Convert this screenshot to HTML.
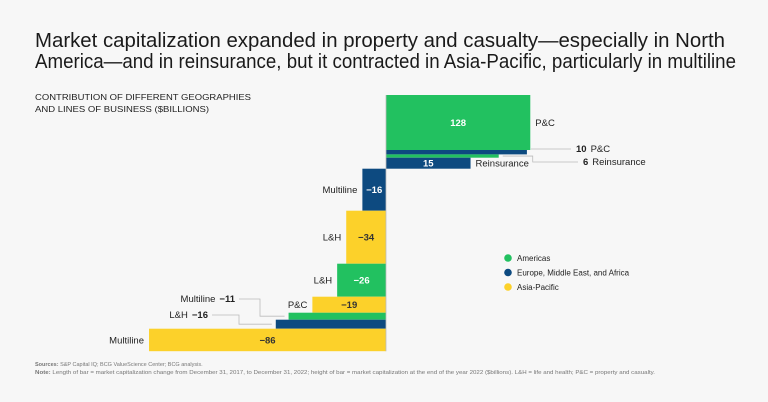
<!DOCTYPE html>
<html><head><meta charset="utf-8"><style>
html,body{margin:0;padding:0;background:#f7f7f7;}
svg{display:block;font-family:"Liberation Sans",sans-serif;}
</style></head><body>
<svg id="c" width="768" height="402" viewBox="0 0 768 402">
<rect width="768" height="402" fill="#f7f7f7"/>
<text x="35" y="47" font-size="20" fill="#1a1a1a" textLength="690" lengthAdjust="spacingAndGlyphs">Market capitalization expanded in property and casualty—especially in North</text>
<text x="35" y="68" font-size="20" fill="#1a1a1a" textLength="701" lengthAdjust="spacingAndGlyphs">America—and in reinsurance, but it contracted in Asia-Pacific, particularly in multiline</text>
<text x="35" y="100" font-size="8.5" fill="#222" textLength="216" lengthAdjust="spacingAndGlyphs">CONTRIBUTION OF DIFFERENT GEOGRAPHIES</text>
<text x="35" y="112" font-size="8.5" fill="#222" textLength="174" lengthAdjust="spacingAndGlyphs">AND LINES OF BUSINESS ($BILLIONS)</text>
<g id="bars"></g>
<g id="legend"></g>
<text x="35" y="366" font-size="5.5" fill="#777"><tspan font-weight="bold">Sources:</tspan> S&amp;P Capital IQ; BCG ValueScience Center; BCG analysis.</text>
<text x="35" y="374" font-size="5.5" fill="#777" textLength="620" lengthAdjust="spacingAndGlyphs"><tspan font-weight="bold">Note:</tspan> Length of bar = market capitalization change from December 31, 2017, to December 31, 2022; height of bar = market capitalization at the end of the year 2022 ($billions). L&amp;H = life and health; P&amp;C = property and casualty.</text>
</svg>
<script>
const categories = ["P&C","P&C","Reinsurance","Reinsurance","Multiline","L&H","L&H","P&C","Multiline","L&H","Multiline"];
const regions = ["am","em","am","em","em","ap","am","ap","am","em","ap"];
const changes = [128,10,6,15,-16,-34,-26,-19,-11,-16,-86];
const marketCaps = [550,44,33,110,420,530,330,160,70,90,225];
const regionNames = ["Americas","Europe, Middle East, and Africa","Asia-Pacific"];
const regionKeys = ["am","em","ap"];

const colors = {am:"#22c160", em:"#0d4a80", ap:"#fcd12a"};
const NS = "http://www.w3.org/2000/svg";
const x0 = 386, yTop = 95;
const capScale = v => v / 10;
const areaK = 62;
const g = document.getElementById("bars");
function mk(tag, attrs, parent){const e=document.createElementNS(NS,tag);for(const k in attrs)e.setAttribute(k,attrs[k]);parent.appendChild(e);return e;}

let y = yTop;
const layouts = [];
changes.forEach((v,i)=>{
  const h = capScale(marketCaps[i]);
  const w = areaK*Math.abs(v)/h;
  const x = v>=0 ? x0 : x0-w;
  const r = mk("rect",{x:x,y:y,width:w,height:h,fill:colors[regions[i]]},g);
  
  
  layouts.push({x,y,w,h,v});
  y += h;
});
const fmt = v => v<0 ? "\u2212"+Math.abs(v) : ""+v;
function txt(s,x,y,attrs){const t=mk("text",Object.assign({x:x,y:y,"font-size":9.5,fill:"#222"},attrs||{}),g);t.textContent=s;return t;}
layouts.forEach((L,i)=>{
  const cy = L.y+L.h/2+3.3;
  const big = L.h>=10;
  if(big){
    const t = txt(fmt(L.v), L.x+L.w/2, cy, {"text-anchor":"middle","font-weight":"bold",fill: regions[i]==="ap"?"#333":"#fff"});
    
    
    const c = L.v>=0 ? txt(categories[i], L.x+L.w+5, cy) : txt(categories[i], L.x-5, cy, {"text-anchor":"end"});
    
    
  } else {
    let lx, ly, pts, anchor;
    if(L.v>=0){
      lx = i===1 ? 576 : 583; ly = i===1 ? 152 : 165;
      const sx = L.x+L.w+4;
      pts = i===1 ? `${sx},${ly-3} ${lx-5},${ly-3}` : `${sx},${L.y+L.h/2} ${sx+30},${L.y+L.h/2} ${sx+30},${ly-3} ${lx-5},${ly-3}`;
      anchor="start";
    } else {
      lx = i===8 ? 235 : 208; ly = i===8 ? 302 : 318;
      const ex = L.x-4, ey = L.y+L.h/2;
      const mx = i===8 ? 260 : 239;
      pts = `${lx+4},${ly-3} ${mx},${ly-3} ${mx},${ey} ${ex},${ey}`;
      anchor="end";
    }
    const pl = mk("polyline",{points:pts,fill:"none",stroke:"#bbb","stroke-width":0.8},g);
    
    
    const t = mk("text",{x:lx,y:ly,"font-size":9.5,fill:"#222","text-anchor":anchor},g);
    if(anchor==="start"){
      const a=mk("tspan",{"font-weight":"bold"},t); a.textContent=fmt(L.v);
      const b=mk("tspan",{dx:4},t); b.textContent=categories[i];
    } else {
      const b=mk("tspan",{},t); b.textContent=categories[i];
      const a=mk("tspan",{"font-weight":"bold",dx:4},t); a.textContent=fmt(L.v);
    }
    
    
  }
});
const ax = mk("line",{x1:x0,y1:yTop,x2:x0,y2:y,stroke:"#bbb","stroke-width":0.8},g);



const lg = document.getElementById("legend");
regionNames.forEach((n,i)=>{
  const cy = 258 + i*14.5;
  const c = mk("circle",{cx:508,cy:cy,r:3.8,fill:colors[regionKeys[i]]},lg);
  
  
  const t = mk("text",{x:517,y:cy+3,"font-size":8,fill:"#222"},lg);
  t.textContent = n;
  
  
});
</script>
</body></html>
